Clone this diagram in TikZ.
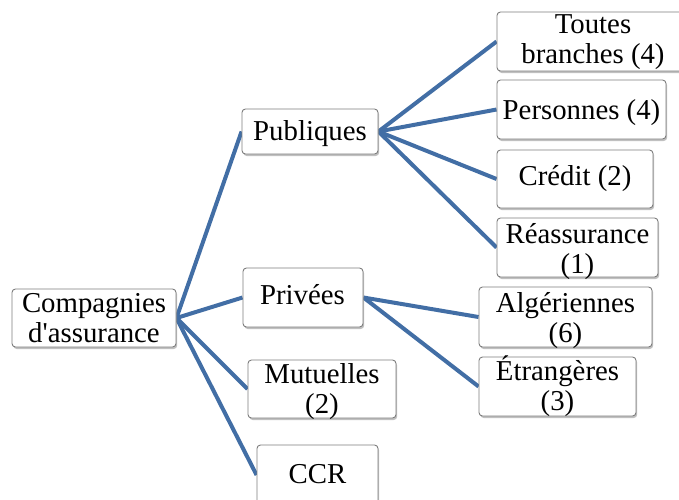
\documentclass[tikz,border=0pt]{standalone}
\usepackage{fontspec}
\setmainfont{Liberation Serif}
\usetikzlibrary{shadows,backgrounds}
\definecolor{linkblue}{RGB}{66,110,165}
\definecolor{boxgray}{RGB}{125,125,125}
\tikzset{
  box/.style={draw=boxgray, line width=0.9pt, fill=white, rounded corners=3.5pt,
    inner sep=0pt, minimum width=#1,
    drop shadow={shadow xshift=1.2pt, shadow yshift=-2pt, fill=black!45, opacity=0.55}},
  lbl/.style={anchor=base, inner sep=0pt, font=\fontsize{28.8}{30}\selectfont},
  link/.style={draw=linkblue, line width=4pt}
}
\begin{document}
\begin{tikzpicture}[x=1pt,y=-1pt]
\useasboundingbox (0,0) rectangle (679,499);
% boxes
\node[box=164pt, minimum height=58pt] (comp) at (94,318) {};
\node[box=136pt, minimum height=45pt] (pub) at (310,131.5) {};
\node[box=120pt, minimum height=59pt] (priv) at (303,297.5) {};
\node[box=148pt, minimum height=58pt] (mut) at (322,389) {};
\node[box=121pt, minimum height=60pt] (ccr) at (317.5,475) {};
\node[box=192pt, minimum height=59pt] (tout) at (593,41.5) {};
\node[box=169pt, minimum height=59pt] (pers) at (581.5,109.5) {};
\node[box=156pt, minimum height=58pt] (cred) at (575,179) {};
\node[box=161pt, minimum height=59pt] (reas) at (577.5,247.5) {};
\node[box=173pt, minimum height=60pt] (alg) at (565.5,317) {};
\node[box=157pt, minimum height=59pt] (etr) at (557.5,386.5) {};
% connectors
\begin{scope}[on background layer]
\draw[link] (comp.east) -- (pub.west);
\draw[link] (comp.east) -- (priv.west);
\draw[link] (comp.east) -- (mut.west);
\draw[link] (comp.east) -- (ccr.west);
\draw[link] (pub.east) -- (tout.west);
\draw[link] (pub.east) -- (pers.west);
\draw[link] (pub.east) -- (cred.west);
\draw[link] (pub.east) -- (reas.west);
\draw[link] (priv.east) -- (alg.west);
\draw[link] (priv.east) -- (etr.west);
\end{scope}
% labels
\node[lbl] (t-comp1) at (94,312) {Compagnies};
\node[lbl] (t-comp2) at (94,342) {d\textquotesingle assurance};
\node[lbl] (t-pub) at (310,140.5) {Publiques};
\node[lbl] (t-priv) at (302.5,304) {Privées};
\node[lbl] (t-mut1) at (322,383) {Mutuelles};
\node[lbl] (t-mut2) at (322,413) {(2)};
\node[lbl] (t-ccr) at (317.5,483) {CCR};
\node[lbl] (t-tout1) at (593,33) {Toutes};
\node[lbl] (t-tout2) at (593,63) {branches (4)};
\node[lbl] (t-pers) at (581.5,119) {Personnes (4)};
\node[lbl] (t-cred) at (575,185) {Crédit (2)};
\node[lbl] (t-reas1) at (577.5,243) {Réassurance};
\node[lbl] (t-reas2) at (577.5,273) {(1)};
\node[lbl] (t-alg1) at (565.5,312) {Algériennes};
\node[lbl] (t-alg2) at (565.5,342) {(6)};
\node[lbl] (t-etr1) at (557.5,380) {Étrangères};
\node[lbl] (t-etr2) at (557.5,410) {(3)};
\end{tikzpicture}
\end{document}
